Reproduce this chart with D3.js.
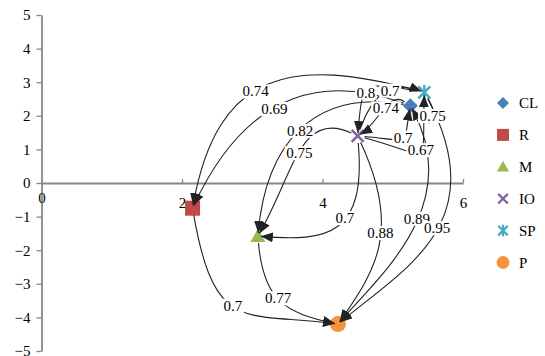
<!DOCTYPE html>
<html>
<head>
<meta charset="utf-8">
<script src="https://cdn.jsdelivr.net/npm/d3@7"></script>
<style>
  body { margin: 0; background: #fff; }
  text { font-family: "Times New Roman", "Liberation Serif", Tinos, serif; fill: #000; }
</style>
</head>
<body>
<svg id="chart" width="545" height="356"></svg>
<script>
// nodes of the path diagram
var nodeNames = ['CL', 'R', 'M', 'IO', 'SP', 'P'];
var nodeX = [5.25, 2.15, 3.08, 4.5, 5.45, 4.22];
var nodeY = [2.3, -0.75, -1.58, 1.4, 2.7, -4.2];
var nodeColors = ['#4a7ebb', '#be4b48', '#98b954', '#7d60a0', '#46aac5', '#f69240'];

// directed links and their weights
var edgeFrom = ['SP', 'CL', 'CL', 'IO', 'IO', 'IO', 'CL', 'SP', 'M', 'R', 'SP', 'CL', 'IO', 'SP', 'IO', 'IO'];
var edgeTo = ['R', 'R', 'M', 'M', 'M', 'P', 'P', 'P', 'P', 'P', 'IO', 'IO', 'CL', 'CL', 'SP', 'SP'];
var edgeWeight = [0.74, 0.69, 0.82, 0.75, 0.7, 0.88, 0.89, 0.95, 0.77, 0.7, 0.8, 0.74, 0.7, 0.75, 0.67, 0.7];

// how each connector bends: leave angle, arrive angle (deg), handle lengths (x chord), label spot
var edgeShape = [
    [195, 100, 0.52, 0.55, 0.56],
    [200, 115, 0.5, 0.4, 0.5],
    [190, 95, 0.5, 0.45, 0.5],
    [205, 120, 0.45, 0.5, 0.5],
    [85, 185, 0.7, 0.5, 0.42],
    [65, 125, 0.55, 0.35, 0.43],
    [62, 130, 0.5, 0.25, 0.42],
    [62, 140, 0.6, 0.35, 0.46],
    [85, 12, 0.55, 0.45, 0.47],
    [80, 8, 0.7, 0.5, 0.45],
    [190, 95, 0.8, 0.7, 0.58],
    [215, 150, 0.45, 0.4, 0.45],
    [5, -80, 0.9, 0.7, 0.55],
    [60, 240, 2.0, 1.5, 0.32],
    [15, -88, 1.0, 1.0, 0.56],
    [-70, 20, 0.5, 0.5, 0.62]
];

var xTicks = [0, 2, 4, 6];
var yTicks = [-5, -4, -3, -2, -1, 0, 1, 2, 3, 4, 5];

var svg = d3.select('#chart');
var x = d3.scaleLinear().domain([0, 6]).range([41.5, 463]);
var y = d3.scaleLinear().domain([-5, 5]).range([351, 15]);
var AXIS = '#878787';
var FONT = '"Times New Roman", "Liberation Serif", serif';

// y axis
var yAxis = svg.append('g')
    .attr('transform', `translate(${x(0)},0)`)
    .call(d3.axisLeft(y).tickValues(yTicks).tickSize(5).tickSizeOuter(0).tickPadding(6)
        .tickFormat((d) => d < 0 ? '\u2212' + (-d) : d));
// x axis, ticks pointing up
var xAxis = svg.append('g')
    .attr('transform', `translate(0,${y(0)})`)
    .call(d3.axisBottom(x).tickValues(xTicks).tickSizeInner(-4).tickSizeOuter(0).tickPadding(14)
        .tickFormat((d) => d));
[xAxis, yAxis].forEach((g) => {
    g.select('.domain').attr('stroke', AXIS).attr('stroke-width', 1.8);
    g.selectAll('.tick line').attr('stroke', AXIS).attr('stroke-width', 1.3);
    g.selectAll('text').style('font-size', '15px').attr('fill', '#000')
        .style('font-family', FONT);
});
// the zero label sits a little higher in the original
xAxis.selectAll('.tick text').filter((d) => d === 0).attr('y', 9);

function markerPath(name, s) {
    switch (name) {
        case 'CL': return `M0,${-s}L${s},0L0,${s}L${-s},0Z`;
        case 'R': return `M${-s},${-s}H${s}V${s}H${-s}Z`;
        case 'M': return `M0,${-s}L${s},${s * 0.8}L${-s},${s * 0.8}Z`;
        case 'IO': return `M${-s},${-s}L${s},${s}M${-s},${s}L${s},${-s}`;
        case 'SP': return `M${-s},${-s}L${s},${s}M${-s},${s}L${s},${-s}M0,${-s * 1.2}V${s * 1.2}`;
        default: return d3.symbol(d3.symbolCircle, Math.PI * s * s)();
    }
}
function isStroke(name) { return name === 'IO' || name === 'SP'; }
var markerSize = { CL: 7.5, R: 7.5, M: 7.5, IO: 6, SP: 6, P: 8 };

function pos(name) {
    var i = nodeNames.indexOf(name);
    return [x(nodeX[i]), y(nodeY[i])];
}

// node markers
svg.append('g').selectAll('path')
    .data(nodeNames)
    .enter()
    .append('path')
    .attr('transform', (d) => `translate(${pos(d)})`)
    .attr('d', (d) => markerPath(d, markerSize[d]))
    .attr('fill', (d, i) => isStroke(d) ? 'none' : nodeColors[i])
    .attr('stroke', (d, i) => isStroke(d) ? nodeColors[i] : 'none')
    .attr('stroke-width', 2.4);

// arrowhead
svg.append('defs').append('marker')
    .attr('id', 'arrow')
    .attr('markerUnits', 'userSpaceOnUse')
    .attr('markerWidth', 13).attr('markerHeight', 11)
    .attr('refX', 12).attr('refY', 5)
    .attr('orient', 'auto')
    .append('path')
    .attr('d', 'M0,0L12,5L0,10Z')
    .attr('fill', '#222');

function bez(p0, c1, c2, p3, t) {
    var u = 1 - t;
    var a = u * u * u, b = 3 * u * u * t, c = 3 * u * t * t, e = t * t * t;
    return [a * p0[0] + b * c1[0] + c * c2[0] + e * p3[0], a * p0[1] + b * c1[1] + c * c2[1] + e * p3[1]];
}

var edges = edgeFrom.map((f, i) => {
    var p0 = pos(f), p3 = pos(edgeTo[i]);
    var sh = edgeShape[i];
    var len = Math.hypot(p3[0] - p0[0], p3[1] - p0[1]);
    var u0 = [Math.cos(sh[0] * Math.PI / 180), Math.sin(sh[0] * Math.PI / 180)];
    var u1 = [Math.cos(sh[1] * Math.PI / 180), Math.sin(sh[1] * Math.PI / 180)];
    var c1 = [p0[0] + sh[2] * len * u0[0], p0[1] + sh[2] * len * u0[1]];
    var c2 = [p3[0] - sh[3] * len * u1[0], p3[1] - sh[3] * len * u1[1]];
    var s = [p0[0] + 7 * u0[0], p0[1] + 7 * u0[1]];
    var e = [p3[0] - 3 * u1[0], p3[1] - 3 * u1[1]];
    return { d: `M${s}C${c1} ${c2} ${e}`, label: bez(p0, c1, c2, p3, sh[4]), w: edgeWeight[i] };
});

svg.append('g').selectAll('path')
    .data(edges)
    .enter()
    .append('path')
    .attr('d', (d) => d.d)
    .attr('fill', 'none')
    .attr('stroke', '#222')
    .attr('stroke-width', 1.1)
    .attr('marker-end', 'url(#arrow)');

// weight labels on a white box so the line breaks around them
var lab = svg.append('g').selectAll('g')
    .data(edges)
    .enter()
    .append('g')
    .attr('transform', (d) => `translate(${d.label})`);
lab.append('rect');
lab.append('text')
    .attr('text-anchor', 'middle')
    .attr('dy', '0.35em')
    .style('font-size', '15px')
    .text((d) => d.w);
lab.each(function () {
    var bb = d3.select(this).select('text').node().getBBox();
    d3.select(this).select('rect')
        .attr('x', bb.x - 1.5).attr('y', bb.y + 1)
        .attr('width', bb.width + 3).attr('height', bb.height - 2)
        .attr('fill', '#fff');
});

// legend
var legend = svg.append('g').attr('transform', 'translate(503,103)');
var row = legend.selectAll('g')
    .data(nodeNames)
    .enter()
    .append('g')
    .attr('transform', (d, i) => `translate(0,${i * 31.9})`);
row.append('path')
    .attr('d', (d) => markerPath(d, markerSize[d] * 0.8))
    .attr('fill', (d, i) => isStroke(d) ? 'none' : nodeColors[i])
    .attr('stroke', (d, i) => isStroke(d) ? nodeColors[i] : 'none')
    .attr('stroke-width', 2.2);
row.append('text')
    .attr('x', 16)
    .attr('dy', '0.35em')
    .style('font-size', '15px')
    .text((d) => d);
</script>
</body>
</html>
